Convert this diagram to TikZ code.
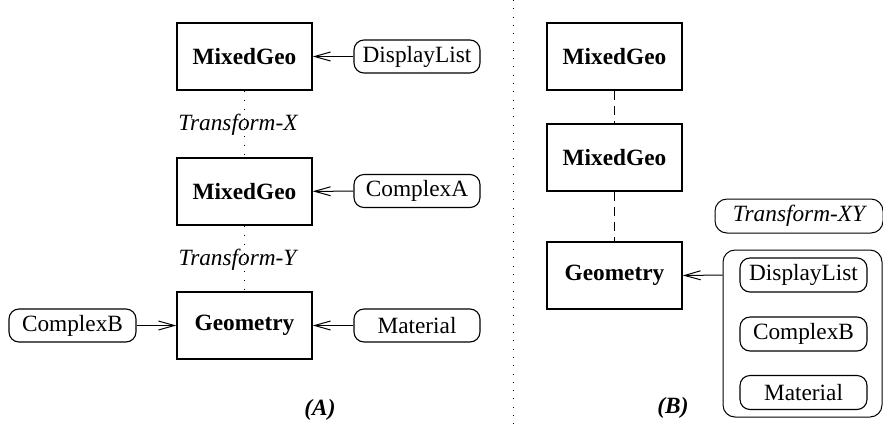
\documentclass[tikz,border=0pt]{standalone}
\usepackage{fontspec}
\setmainfont{Liberation Serif}
\usetikzlibrary{arrows.meta}
\begin{document}
\begin{tikzpicture}[x=1pt,y=-1pt,
  every node/.style={inner sep=0pt,font=\fontsize{23.3}{28}\selectfont},
  cls/.style={draw,line width=1.5pt,minimum width=135pt,minimum height=67pt,font=\fontsize{23.3}{28}\selectfont\bfseries},
  obj/.style={draw,line width=1.1pt,rounded corners=10pt,minimum width=126pt,minimum height=33pt},
  lbl/.style={font=\fontsize{23.3}{28}\selectfont\itshape},
  captext/.style={font=\fontsize{23.3}{28}\selectfont\bfseries\itshape},
  arr/.style={line width=1pt,-{Straight Barb[length=16pt,width=9pt,line width=1pt]}},
  dotline/.style={line width=1.3pt,dash pattern=on 1.2pt off 7.8pt},
  dashline/.style={line width=1pt,dash pattern=on 9pt off 6pt}]
\useasboundingbox (0,0) rectangle (883,424);
% ---- (A) ----
\node[cls] (mg1) at (244.5,56.5) {MixedGeo};
\node[cls] (mg2) at (244.5,191.5) {MixedGeo};
\node[cls] (geo) at (244.5,325.5) {Geometry};
\node[obj] (dl1) at (417,56.5) {DisplayList};
\node[obj] (ca) at (417,191) {ComplexA};
\node[obj] (mat) at (417,325.5) {Material};
\node[obj,minimum width=127pt] (cb) at (72.5,325.5) {ComplexB};
\draw[dotline] (mg1.south) -- (mg2.north);
\draw[dotline] (mg2.south) -- (geo.north);
\node[lbl] (tx) at (238,125) {Transform-X};
\node[lbl] (ty) at (237.5,260) {Transform-Y};
\draw[arr] (dl1) -- (mg1);
\draw[arr] (ca) -- (mg2);
\draw[arr] (mat) -- (geo);
\draw[arr] (cb) -- (geo);
\node[captext] (capA) at (320,410) {(A)};
% ---- divider ----
\coordinate (dtop) at (513,0);
\coordinate (dbot) at (513,424);
\draw[line width=1pt,dash pattern=on 1pt off 7.3pt] (dtop) -- (dbot);
% ---- (B) ----
\node[cls] (mgB1) at (614.5,56.5) {MixedGeo};
\node[cls] (mgB2) at (614.5,157.5) {MixedGeo};
\node[cls] (geoB) at (614.5,275.5) {Geometry};
\draw[dashline] (mgB1.south) -- (mgB2.north);
\draw[dashline] (mgB2.south) -- (geoB.north);
\node[draw,line width=1pt,rounded corners=12pt,minimum width=168pt,minimum height=34pt] (txy) at (799,216) {};
\node[lbl] (txyt) at (799,216) {Transform-XY};
\node[draw,line width=1pt,rounded corners=12pt,minimum width=159pt,minimum height=167pt] (cont) at (802.5,333.5) {};
\node[obj,minimum width=127pt,minimum height=34pt] (dlB) at (803.5,275) {DisplayList};
\node[obj,minimum width=127pt,minimum height=34pt] (cbB) at (803.5,334) {ComplexB};
\node[obj,minimum width=127pt,minimum height=34pt] (matB) at (803.5,392.5) {Material};
\coordinate (cin) at (cont.west |- dlB);
\draw[arr] (cin) -- (geoB.east);
\node[captext] (capB) at (673,408) {(B)};
\end{tikzpicture}
\end{document}
